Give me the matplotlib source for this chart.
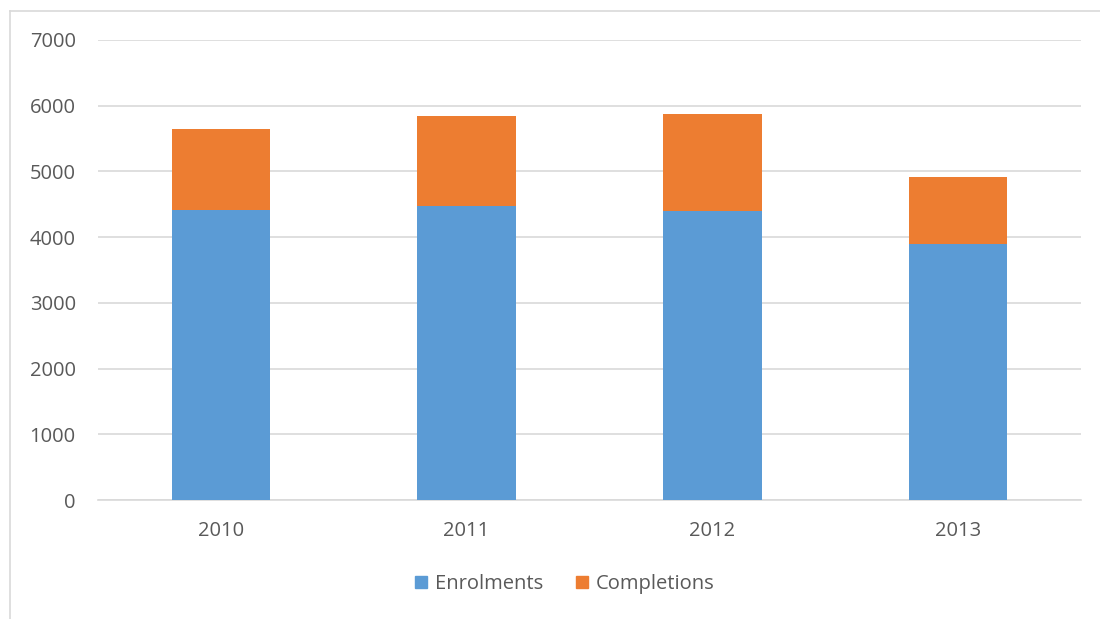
import matplotlib
matplotlib.use("Agg")
import matplotlib.pyplot as plt
from matplotlib.lines import Line2D
from matplotlib.patches import Patch
import numpy as np

years = ["2010", "2011", "2012", "2013"]
enrolments = [4407, 4472, 4392, 3890]
completions = [1234, 1378, 1477, 1018]

blue = "#5B9BD5"
orange = "#ED7D31"
text_col = "#595959"
grid_col = "#D9D9D9"

plt.rcParams['font.family'] = ['Open Sans', 'DejaVu Sans']

fig = plt.figure(figsize=(11, 6.19), dpi=100)
ax = fig.add_axes([98 / 1100, 1 - 500 / 619, (1081 - 98) / 1100, (500 - 40) / 619])

x = np.arange(len(years))
ax.bar(x, enrolments, width=0.4, color=blue, zorder=3)
ax.bar(x, completions, width=0.4, bottom=enrolments, color=orange, zorder=3)

ax.set_xlim(-0.5, len(years) - 0.5)
ax.set_ylim(0, 7000)
ax.set_yticks(range(0, 7001, 1000))
ax.set_xticks(x)
ax.set_xticklabels(years)
ax.yaxis.grid(True, color=grid_col, linewidth=1.2, zorder=0)
ax.tick_params(axis='both', length=0, labelsize=14.5, labelcolor=text_col)
ax.tick_params(axis='y', pad=16)
ax.tick_params(axis='x', pad=15)
for side in ["left", "right", "top"]:
    ax.spines[side].set_visible(False)
ax.spines["bottom"].set_color(grid_col)
ax.spines["bottom"].set_linewidth(1.2)

# chart area border
fig.add_artist(Line2D([10 / 1100, 10 / 1100], [0, 1 - 11 / 619], color=grid_col, linewidth=1.2))
fig.add_artist(Line2D([10 / 1100, 1], [1 - 11 / 619, 1 - 11 / 619], color=grid_col, linewidth=1.2))

handles = [Patch(color=blue, label="Enrolments"), Patch(color=orange, label="Completions")]
fig.legend(handles=handles, loc="center", bbox_to_anchor=(565 / 1100, 1 - 584 / 619), ncol=2,
           frameon=False, fontsize=14.5, labelcolor=text_col, handlelength=0.6, handleheight=0.6,
           handletextpad=0.4, columnspacing=1.6)

fig.savefig("out.png", dpi=100)
